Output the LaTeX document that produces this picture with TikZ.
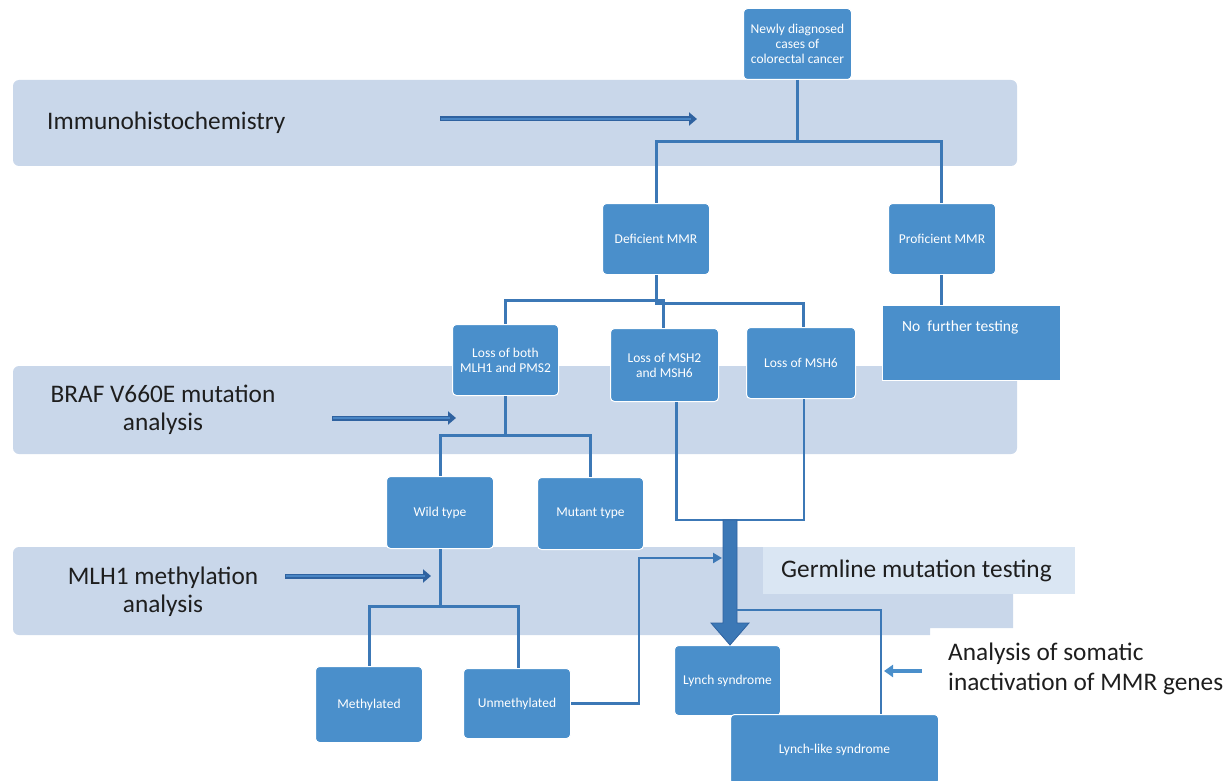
\documentclass[tikz,border=0pt]{standalone}
\usepackage{fontspec}
\setmainfont{Carlito}
\usetikzlibrary{arrows.meta,calc}
\definecolor{band}{HTML}{C9D7EA}
\definecolor{germ}{HTML}{DAE6F3}
\definecolor{boxblue}{HTML}{4A8FCB}
\definecolor{line}{HTML}{3C78B6}
\definecolor{dark}{HTML}{2F62A0}
\definecolor{arrfill}{HTML}{4A86C5}
\definecolor{ink}{HTML}{1E1E1E}
\tikzset{
  bandbox/.style={fill=band, draw=none, rounded corners=6pt},
  box/.style={draw=white, line width=1pt, fill=boxblue, rounded corners=4pt, text=white,
    font=\fontsize{13.5}{15}\selectfont, align=center, inner sep=0pt, anchor=north west},
  conn/.style={draw=line, line width=3pt},
  thinconn/.style={draw=line, line width=2.4pt},
  label/.style={text=ink, font=\fontsize{25.3}{28}\selectfont, align=center, inner sep=0pt},
  sidearrow/.style={draw=dark, line width=5pt, -{Triangle[length=8pt,width=13pt]}},
  sidearrowin/.style={draw=arrfill, line width=2pt, shorten >=6pt},
}
\begin{document}
\begin{tikzpicture}[x=1pt,y=-1pt]
\useasboundingbox (0,0) rectangle (1229,781);
% bands
\fill[bandbox] (13,80) rectangle (1017,166);
\fill[bandbox] (13,366) rectangle (1017,454);
\fill[band] (13,547) -- (1013,547) -- (1013,628) -- (930,628) -- (930,635) -- (19,635)
  [rounded corners=6pt] -- (13,635) -- cycle;
\fill[germ] (763,547) rectangle (1075,594);
% band labels
\node[label, anchor=west] (ihc) at (47,123) {Immunohistochemistry};
\node[label] (braf) at (163,410) {BRAF V660E mutation\\analysis};
\node[label] (mlh) at (163,592) {MLH1 methylation\\analysis};
\node[label, anchor=west] (germl) at (781,571) {Germline mutation testing};
\node[label, anchor=west, align=left, font=\fontsize{25.3}{30}\selectfont] (somatic) at (948,669) {Analysis of somatic\\inactivation of MMR genes};
% boxes
\node[box, minimum width=108pt, minimum height=71pt] (new) at (743,8) {Newly diagnosed\\cases of\\colorectal cancer};
\node[box, minimum width=107pt, minimum height=71pt] (def) at (602,203) {Deficient MMR};
\node[box, minimum width=107pt, minimum height=71pt] (prof) at (888,203) {Proficient MMR};
\node[box, rounded corners=0pt, minimum width=178pt, minimum height=75pt] (nft) at (882,305) {};
\node[text=white, font=\fontsize{15.5}{18}\selectfont, anchor=west, inner sep=0pt] (nfttext) at (902,327) {No\ \ further testing};
\node[box, minimum width=106pt, minimum height=71pt] (lboth) at (452,324) {Loss of both\\MLH1 and PMS2};
\node[box, minimum width=108pt, minimum height=73pt] (msh2) at (610,328) {Loss of MSH2\\and MSH6};
\node[box, minimum width=109pt, minimum height=71pt] (msh6) at (746,327) {Loss of MSH6};
\node[box, minimum width=107pt, minimum height=72pt] (wild) at (386,476) {Wild type};
\node[box, minimum width=106pt, minimum height=72pt] (mut) at (537,477) {Mutant type};
\node[box, minimum width=107pt, minimum height=76pt] (meth) at (315,666) {Methylated};
\node[box, minimum width=107pt, minimum height=70pt] (unmeth) at (463,668) {Unmethylated};
\node[box, minimum width=106pt, minimum height=70pt] (lynch) at (674,645) {Lynch syndrome};
\node[box, minimum width=208pt, minimum height=70pt] (llike) at (730,714) {Lynch-like syndrome};
% side arrows
\coordinate (a1s) at (440,119); \coordinate (a1e) at (697,119);
\coordinate (a2s) at (332,418); \coordinate (a2e) at (456,418);
\coordinate (a3s) at (285,576); \coordinate (a3e) at (431,576);
\foreach \s/\e in {a1s/a1e, a2s/a2e, a3s/a3e}{
  \draw[sidearrow] (\s) -- (\e);
  \draw[sidearrowin] ($(\s)+(1,0)$) -- (\e);
}
% tree
\draw[conn] (new.south) -- (new.south |- 0,142) coordinate (t1) -| (def.north);
\draw[conn] (t1) -| ([xshift=-1pt]prof.north);
\draw[conn] (def.south) -- (def.south |- 0,300) coordinate (t2) -| (lboth.north);
\draw[conn] (t2) -| ([xshift=-1pt]msh2.north);
\draw[conn] (t2) -- ++(0,3) -| ([xshift=2pt]msh6.north);
\draw[conn] ([xshift=-1pt]prof.south) -- ([xshift=-1pt]prof.south |- nft.north);
\draw[conn] (lboth.south) -- (lboth.south |- 0,435) coordinate (t3) -| (wild.north);
\draw[conn] (t3) -| (mut.north);
\draw[conn] (wild.south) -- (wild.south |- 0,606) coordinate (t4) -| (meth.north);
\draw[conn] (t4) -| ([xshift=1pt]unmeth.north);
% MSH2 / MSH6 join
\coordinate (join) at (730,520);
\draw[thinconn] ([xshift=12pt]msh2.south) |- (join) -| ([xshift=3pt]msh6.south);
% big arrow to Lynch syndrome
\coordinate (tip) at (join |- lynch.north);
\fill[line, draw=dark, line width=0.8pt] ($(join)+(-7,0)$) -- ($(join)+(7,0)$) -- ($(tip)+(7,-22)$) -- ($(tip)+(19,-22)$) -- (tip) -- ($(tip)+(-19,-22)$) -- ($(tip)+(-7,-22)$) -- cycle;
% unmethylated to germline
\coordinate (gtip) at (722,558);
\draw[thinconn, -{Triangle[length=9pt,width=10pt]}] (unmeth.east) -| (gtip -| 639,0) -- (gtip);
% to Lynch-like
\draw[draw=line, line width=2pt] (737,610) -| ([xshift=46pt]llike.north);
% somatic arrow
\coordinate (sa) at (922,671); \coordinate (sb) at (884,671);
\draw[draw=boxblue, line width=4pt, -{Triangle[length=9pt,width=12pt]}] (sa) -- (sb);
\end{tikzpicture}
\end{document}
